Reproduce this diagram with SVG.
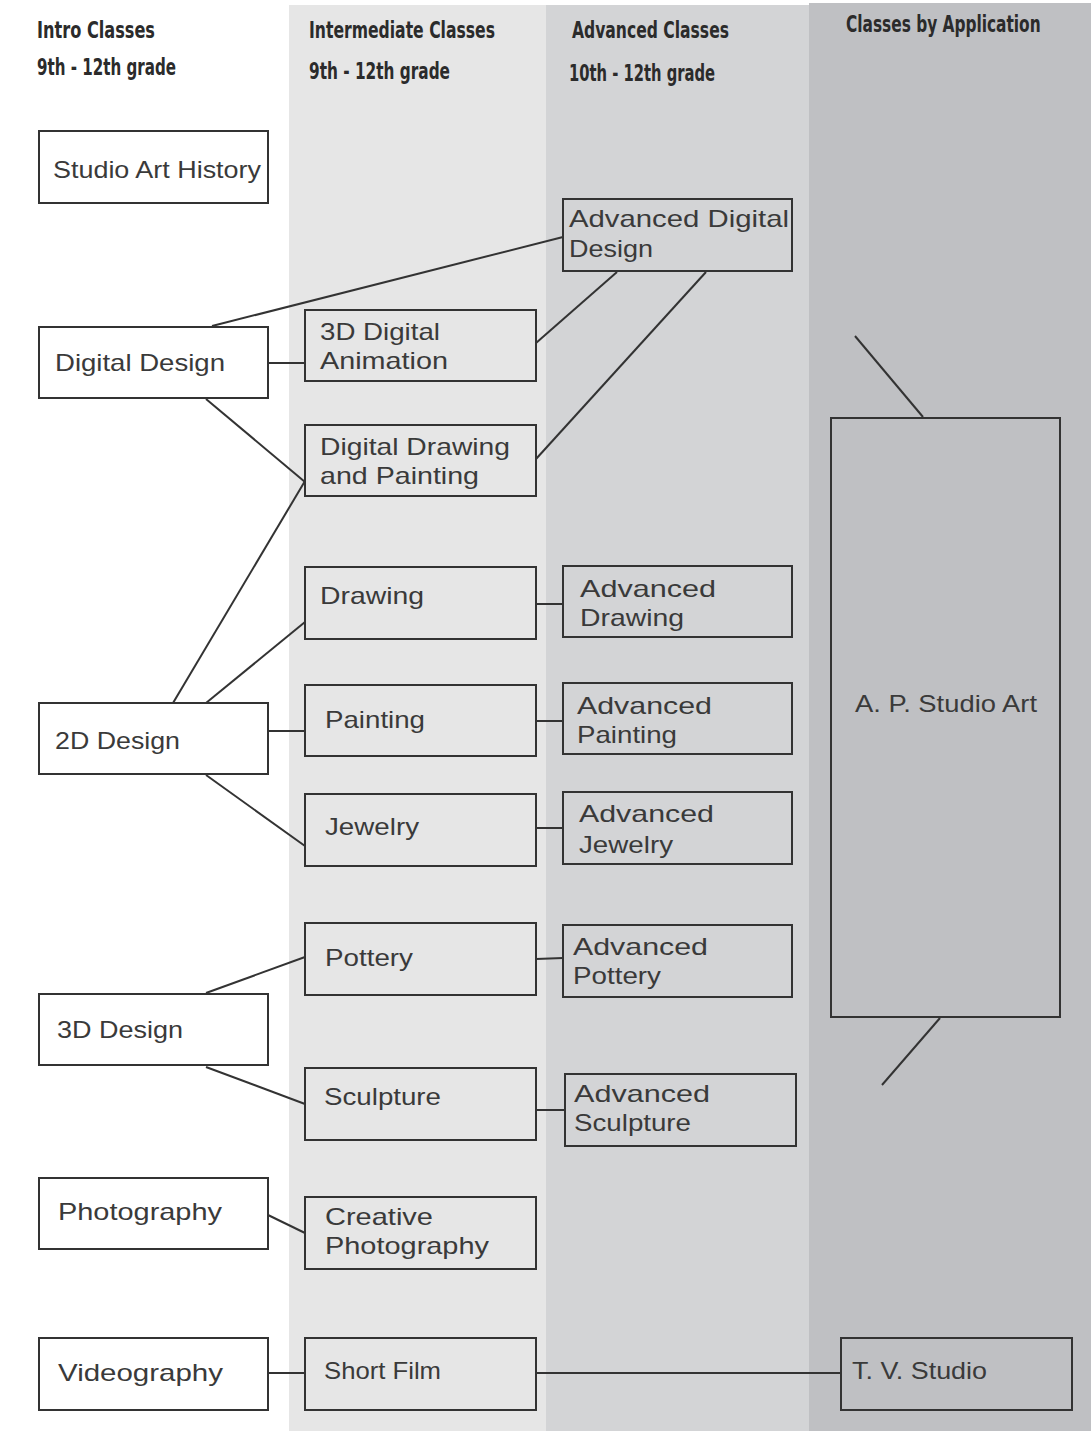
<svg xmlns="http://www.w3.org/2000/svg" width="1091" height="1431" viewBox="0 0 1091 1431">
<style>
.box{stroke:#333;stroke-width:2}
.w{fill:#fff}
.g2{fill:#e6e6e6}
.g3{fill:#d3d4d6}
.g4{fill:#bfc0c3}
.t{font-family:"Liberation Sans","DejaVu Sans",sans-serif;font-size:24px;fill:#3a3a3a}
.h{font-family:"DejaVu Sans Condensed","DejaVu Sans","Liberation Sans",sans-serif;font-stretch:condensed;font-weight:bold;font-size:23px;fill:#2b2b2b}
.c{stroke:#333;stroke-width:2;fill:none}
</style>
<rect x="0" y="0" width="1091" height="1431" fill="#fff"/>
<rect x="289" y="5" width="257" height="1426" fill="#e6e6e6"/>
<rect x="546" y="5" width="263" height="1426" fill="#d3d4d6"/>
<rect x="809" y="3" width="282" height="1428" fill="#bfc0c3"/>
<g id="headers">
<text class="h" x="37" y="38" textLength="118" lengthAdjust="spacingAndGlyphs">Intro Classes</text>
<text class="h" x="37" y="75" textLength="139" lengthAdjust="spacingAndGlyphs">9th - 12th grade</text>
<text class="h" x="309" y="38" textLength="186" lengthAdjust="spacingAndGlyphs">Intermediate Classes</text>
<text class="h" x="309" y="79" textLength="141" lengthAdjust="spacingAndGlyphs">9th - 12th grade</text>
<text class="h" x="572" y="38" textLength="157" lengthAdjust="spacingAndGlyphs">Advanced Classes</text>
<text class="h" x="569" y="81" textLength="146" lengthAdjust="spacingAndGlyphs">10th - 12th grade</text>
<text class="h" transform="translate(846,32) scale(0.7,1)" x="0" y="0" textLength="278" lengthAdjust="spacingAndGlyphs">Classes by Application</text>
</g>
<g id="connectors">
<line class="c" x1="212" y1="326" x2="563" y2="237"/>
<line class="c" x1="268" y1="363" x2="305" y2="363"/>
<line class="c" x1="536" y1="343" x2="617" y2="272"/>
<line class="c" x1="536" y1="459" x2="706" y2="272"/>
<line class="c" x1="206" y1="399" x2="305" y2="482"/>
<line class="c" x1="173" y1="703" x2="305" y2="481"/>
<line class="c" x1="206" y1="703" x2="305" y2="622"/>
<line class="c" x1="268" y1="731" x2="305" y2="731"/>
<line class="c" x1="206" y1="775" x2="305" y2="846"/>
<line class="c" x1="536" y1="604" x2="563" y2="604"/>
<line class="c" x1="536" y1="721" x2="563" y2="721"/>
<line class="c" x1="536" y1="828" x2="563" y2="828"/>
<line class="c" x1="536" y1="959" x2="563" y2="958"/>
<line class="c" x1="536" y1="1110" x2="565" y2="1110"/>
<line class="c" x1="206" y1="993" x2="305" y2="957"/>
<line class="c" x1="206" y1="1067" x2="305" y2="1104"/>
<line class="c" x1="268" y1="1215" x2="305" y2="1233"/>
<line class="c" x1="268" y1="1373" x2="305" y2="1373"/>
<line class="c" x1="536" y1="1373" x2="841" y2="1373"/>
<line class="c" x1="855" y1="336" x2="923" y2="417"/>
<line class="c" x1="940" y1="1018" x2="882" y2="1085"/>
</g>
<g id="studio-art-history"><rect class="box w" x="39" y="131" width="229" height="72"/><text class="t" x="53" y="178" textLength="208" lengthAdjust="spacingAndGlyphs">Studio Art History</text></g>
<g id="digital-design"><rect class="box w" x="39" y="327" width="229" height="71"/><text class="t" x="55" y="371" textLength="170" lengthAdjust="spacingAndGlyphs">Digital Design</text></g>
<g id="design-2d"><rect class="box w" x="39" y="703" width="229" height="71"/><text class="t" x="55" y="749" textLength="125" lengthAdjust="spacingAndGlyphs">2D Design</text></g>
<g id="design-3d"><rect class="box w" x="39" y="994" width="229" height="71"/><text class="t" x="57" y="1038" textLength="126" lengthAdjust="spacingAndGlyphs">3D Design</text></g>
<g id="photography"><rect class="box w" x="39" y="1178" width="229" height="71"/><text class="t" x="58" y="1220" textLength="164" lengthAdjust="spacingAndGlyphs">Photography</text></g>
<g id="videography"><rect class="box w" x="39" y="1338" width="229" height="72"/><text class="t" x="58" y="1381" textLength="165" lengthAdjust="spacingAndGlyphs">Videography</text></g>
<g id="digital-animation-3d"><rect class="box g2" x="305" y="310" width="231" height="71"/><text class="t" x="320" y="340" textLength="120" lengthAdjust="spacingAndGlyphs">3D Digital</text><text class="t" x="320" y="369" textLength="128" lengthAdjust="spacingAndGlyphs">Animation</text></g>
<g id="digital-drawing-painting"><rect class="box g2" x="305" y="425" width="231" height="71"/><text class="t" x="320" y="455" textLength="190" lengthAdjust="spacingAndGlyphs">Digital Drawing</text><text class="t" x="320" y="484" textLength="159" lengthAdjust="spacingAndGlyphs">and Painting</text></g>
<g id="drawing"><rect class="box g2" x="305" y="567" width="231" height="72"/><text class="t" x="320" y="604" textLength="104" lengthAdjust="spacingAndGlyphs">Drawing</text></g>
<g id="painting"><rect class="box g2" x="305" y="685" width="231" height="71"/><text class="t" x="325" y="728" textLength="100" lengthAdjust="spacingAndGlyphs">Painting</text></g>
<g id="jewelry"><rect class="box g2" x="305" y="794" width="231" height="72"/><text class="t" x="325" y="835" textLength="94" lengthAdjust="spacingAndGlyphs">Jewelry</text></g>
<g id="pottery"><rect class="box g2" x="305" y="923" width="231" height="72"/><text class="t" x="325" y="966" textLength="88" lengthAdjust="spacingAndGlyphs">Pottery</text></g>
<g id="sculpture"><rect class="box g2" x="305" y="1068" width="231" height="72"/><text class="t" x="324" y="1105" textLength="117" lengthAdjust="spacingAndGlyphs">Sculpture</text></g>
<g id="creative-photography"><rect class="box g2" x="305" y="1197" width="231" height="72"/><text class="t" x="325" y="1225" textLength="108" lengthAdjust="spacingAndGlyphs">Creative</text><text class="t" x="325" y="1254" textLength="164" lengthAdjust="spacingAndGlyphs">Photography</text></g>
<g id="short-film"><rect class="box g2" x="305" y="1338" width="231" height="72"/><text class="t" x="324" y="1379" textLength="117" lengthAdjust="spacingAndGlyphs">Short Film</text></g>
<g id="advanced-digital-design"><rect class="box g3" x="563" y="199" width="229" height="72"/><text class="t" x="569" y="227" textLength="220" lengthAdjust="spacingAndGlyphs">Advanced Digital</text><text class="t" x="569" y="257" textLength="84" lengthAdjust="spacingAndGlyphs">Design</text></g>
<g id="advanced-drawing"><rect class="box g3" x="563" y="566" width="229" height="71"/><text class="t" x="580" y="597" textLength="136" lengthAdjust="spacingAndGlyphs">Advanced</text><text class="t" x="580" y="626" textLength="104" lengthAdjust="spacingAndGlyphs">Drawing</text></g>
<g id="advanced-painting"><rect class="box g3" x="563" y="683" width="229" height="71"/><text class="t" x="577" y="714" textLength="135" lengthAdjust="spacingAndGlyphs">Advanced</text><text class="t" x="577" y="743" textLength="100" lengthAdjust="spacingAndGlyphs">Painting</text></g>
<g id="advanced-jewelry"><rect class="box g3" x="563" y="792" width="229" height="72"/><text class="t" x="579" y="822" textLength="135" lengthAdjust="spacingAndGlyphs">Advanced</text><text class="t" x="579" y="853" textLength="94" lengthAdjust="spacingAndGlyphs">Jewelry</text></g>
<g id="advanced-pottery"><rect class="box g3" x="563" y="925" width="229" height="72"/><text class="t" x="573" y="955" textLength="135" lengthAdjust="spacingAndGlyphs">Advanced</text><text class="t" x="573" y="984" textLength="88" lengthAdjust="spacingAndGlyphs">Pottery</text></g>
<g id="advanced-sculpture"><rect class="box g3" x="565" y="1074" width="231" height="72"/><text class="t" x="574" y="1102" textLength="136" lengthAdjust="spacingAndGlyphs">Advanced</text><text class="t" x="574" y="1131" textLength="117" lengthAdjust="spacingAndGlyphs">Sculpture</text></g>
<g id="ap-studio-art"><rect class="box g4" x="831" y="418" width="229" height="599"/><text class="t" x="855" y="712" textLength="182" lengthAdjust="spacingAndGlyphs">A. P. Studio Art</text></g>
<g id="tv-studio"><rect class="box g4" x="841" y="1338" width="231" height="72"/><text class="t" x="852" y="1379" textLength="135" lengthAdjust="spacingAndGlyphs">T. V. Studio</text></g>
</svg>
